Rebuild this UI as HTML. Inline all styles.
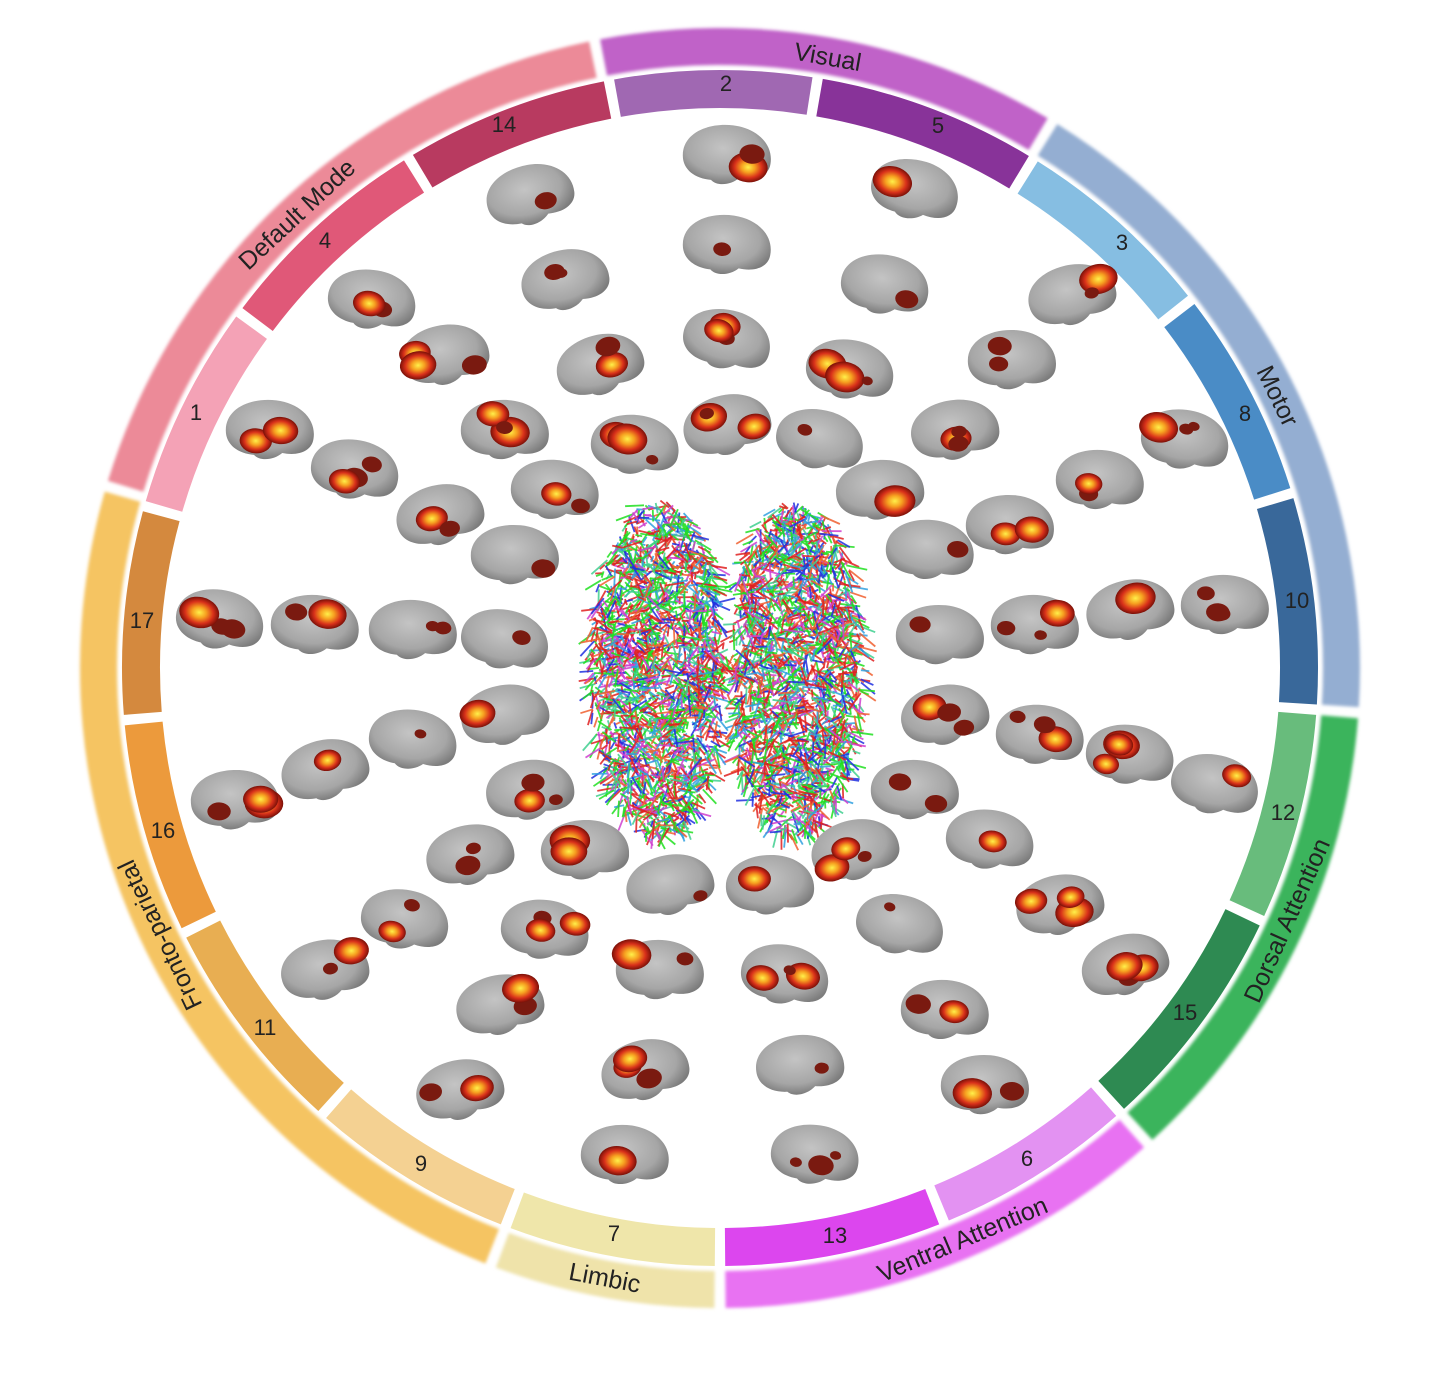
<!DOCTYPE html>
<html><head><meta charset="utf-8">
<style>
html,body{margin:0;padding:0;background:#fff;}
svg{display:block;}
text{font-family:"Liberation Sans",sans-serif;fill:#222;}
.n{font-size:22px;text-anchor:middle;}
.L{font-size:25px;text-anchor:middle;}
</style></head><body>
<svg id="s" width="1429" height="1398" viewBox="0 0 1429 1398" xmlns="http://www.w3.org/2000/svg">
<defs>
<filter id="bl" x="-5%" y="-5%" width="110%" height="110%"><feGaussianBlur stdDeviation="1.6"/></filter>
<radialGradient id="bg" cx="45%" cy="40%" r="60%"><stop offset="0" stop-color="#c4c4c4"/><stop offset="0.7" stop-color="#a6a6a6"/><stop offset="1" stop-color="#7c7c7c"/></radialGradient>
<radialGradient id="hot" cx="50%" cy="50%" r="50%"><stop offset="0" stop-color="#fff04a"/><stop offset="0.35" stop-color="#f6a020"/><stop offset="0.7" stop-color="#d8301a"/><stop offset="1" stop-color="#7a1008"/></radialGradient>
</defs>
<g id="rings"></g>
<g id="fib"></g>
<g id="brains"></g>
<g>
<text class="L" transform="rotate(10 720 668)" x="720" y="56">Visual</text>
<text class="L" transform="rotate(64 720 668)" x="720" y="56">Motor</text>
<text class="L" transform="rotate(317 720 668)" x="720" y="56">Default Mode</text>
<text class="L" transform="rotate(244.5 720 668)" x="720" y="56">Fronto-parietal</text>
<text class="L" transform="rotate(-66 720 668)" x="720" y="1297">Dorsal  Attention</text>
<text class="L" transform="rotate(-23 720 668)" x="720" y="1297">Ventral  Attention</text>
<text class="L" transform="rotate(10.7 720 668)" x="720" y="1297">Limbic</text>
</g>
<g>
<text class="n" x="726" y="91">2</text>
<text class="n" x="938" y="133">5</text>
<text class="n" x="1122" y="250">3</text>
<text class="n" x="1245" y="421">8</text>
<text class="n" x="1297" y="608">10</text>
<text class="n" x="1283" y="820">12</text>
<text class="n" x="1185" y="1020">15</text>
<text class="n" x="1027" y="1166">6</text>
<text class="n" x="835" y="1243">13</text>
<text class="n" x="614" y="1241">7</text>
<text class="n" x="421" y="1171">9</text>
<text class="n" x="265" y="1035">11</text>
<text class="n" x="163" y="838">16</text>
<text class="n" x="142" y="628">17</text>
<text class="n" x="196" y="420">1</text>
<text class="n" x="325" y="248">4</text>
<text class="n" x="504" y="132">14</text>
</g>
</svg>
<script>
(function(){
var NS="http://www.w3.org/2000/svg",cx=720,cy=668;
function P(r,a){a=a*Math.PI/180;return [cx+r*Math.sin(a),cy-r*Math.cos(a)];}
function arc(r1,r2,a1,a2,col,g,filt){
 var p1=P(r2,a1),p2=P(r2,a2),p3=P(r1,a2),p4=P(r1,a1),lg=(a2-a1)>180?1:0;
 var d="M"+p1+"A"+r2+","+r2+" 0 "+lg+" 1 "+p2+"L"+p3+"A"+r1+","+r1+" 0 "+lg+" 0 "+p4+"Z";
 var e=document.createElementNS(NS,"path");e.setAttribute("d",d);e.setAttribute("fill",col);
 if(filt)e.setAttribute("filter","url(#bl)");g.appendChild(e);}
var R=document.getElementById("rings");
var outer=[[-11.3,31.3,"#c062c8"],[31.3,94,"#94aed2"],[94,138,"#3bb45c"],[138,180,"#e872f2"],[180,201,"#efe3aa"],[201,286.5,"#f5c462"],[286.5,348.7,"#ec8a98"]];
outer.forEach(function(o){arc(603,640,o[0]+0.5,o[1]-0.5,o[2],R,true);});
var inner=[[-10.7,9.4,"#a068b2"],[9.4,31.6,"#883399"],[31.6,52,"#86bee2"],[52,73,"#4a8cc6"],[73,94,"#39689a"],[94,115,"#68bc7c"],[115,138,"#2e8a52"],[138,158,"#e392f2"],[158,180,"#dc46ee"],[180,201,"#efe6aa"],[201,221.7,"#f4d192"],[221.7,243.7,"#e8ae52"],[243.7,265,"#ec9a3c"],[265,285.7,"#d4893e"],[285.7,306.5,"#f4a2b6"],[306.5,328.6,"#e05878"],[328.6,349.3,"#b83a60"]];
inner.forEach(function(o){arc(560,598,o[0]+0.5,o[1]-0.5,o[2],R,false);});
var seed=7;function rnd(){seed=(seed*16807)%2147483647;return seed/2147483647;}
var F=document.getElementById("fib"),cols=["#e02020","#20e020","#2030e0","#30a0e0","#d040d0","#f06030","#40d090","#e02020","#20e020"],s="";
for(var i=0;i<4500;i++){
 var side=rnd()<0.5?-1:1;
 var t=rnd()*Math.PI*2,rr=Math.sqrt(rnd());
 var x=cx+6+side*68+Math.cos(t)*rr*68,y=cy+Math.sin(t)*rr*168;
 if(Math.abs(x-(cx+6))<8&&rnd()<0.7)continue;
 var ang=rnd()*Math.PI,L=6+rnd()*16;
 var c=cols[Math.floor(rnd()*cols.length)];
 s+='<line x1="'+x.toFixed(1)+'" y1="'+y.toFixed(1)+'" x2="'+(x+Math.cos(ang)*L).toFixed(1)+'" y2="'+(y+Math.sin(ang)*L).toFixed(1)+'" stroke="'+c+'" stroke-width="1.8" opacity="0.85"/>';
}
F.innerHTML=s;
var B=[[727,155],[915,190],[530,195],[727,245],[565,280],[885,285],[372,300],[1072,295],[727,340],[445,355],[600,365],[850,370],[1012,360],[270,430],[505,430],[635,445],[727,425],[820,440],[955,430],[1185,440],[355,470],[555,490],[880,490],[1100,480],[440,515],[1010,525],[515,555],[930,550],[220,620],[315,625],[413,630],[505,640],[940,635],[1035,625],[1130,610],[1225,605],[505,715],[945,715],[413,740],[1040,735],[1130,755],[1215,785],[325,770],[235,800],[530,790],[915,790],[470,855],[585,850],[855,850],[990,840],[670,885],[770,885],[1060,905],[405,920],[545,930],[900,925],[1125,965],[325,970],[660,970],[785,975],[945,1010],[500,1005],[645,1070],[800,1065],[460,1090],[985,1085],[625,1155],[815,1155]];
var h="";
B.forEach(function(b){
 var rot=(rnd()-0.5)*30,x=b[0],y=b[1];
 h+='<g transform="translate('+x+','+y+') rotate('+rot.toFixed(1)+')">';
 h+='<path d="M-44,4 C-46,-18 -22,-31 4,-30 C28,-29 46,-14 44,6 C43,18 30,24 14,22 C6,30 -8,32 -14,26 C-30,26 -43,18 -44,4Z" fill="url(#bg)"/>';
 var n=1+Math.floor(rnd()*3);
 for(var k=0;k<n;k++){
  var sx=(rnd()-0.5)*60,sy=(rnd()-0.5)*32,sr=4+rnd()*12;
  h+='<ellipse cx="'+sx.toFixed(1)+'" cy="'+sy.toFixed(1)+'" rx="'+(sr*1.3).toFixed(1)+'" ry="'+sr.toFixed(1)+'" fill="'+(sr>10?'url(#hot)':'#7a1a10')+'"/>';
 }
 h+='</g>';
});
document.getElementById("brains").innerHTML=h;
})();
</script>
</body></html>
